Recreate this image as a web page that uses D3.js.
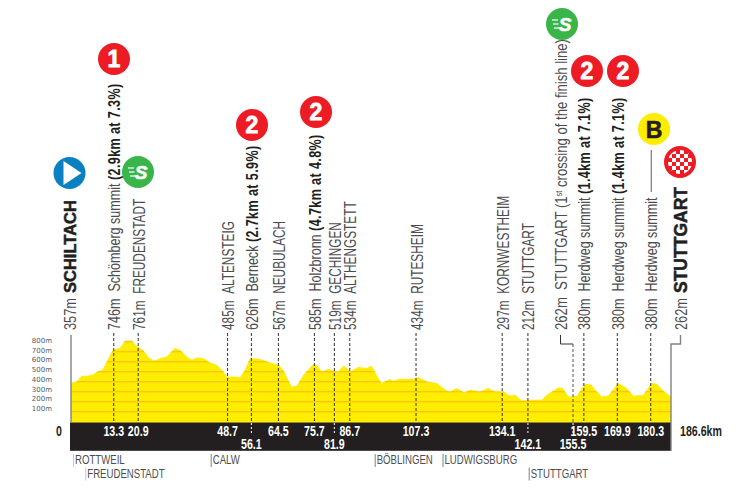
<!DOCTYPE html>
<html>
<head>
<meta charset="utf-8">
<script src="https://cdnjs.cloudflare.com/ajax/libs/d3/7.8.5/d3.min.js"></script>
<style>
  html, body { margin: 0; padding: 0; background: #fff; }
  svg { display: block; }
  text { font-family: "Liberation Sans", sans-serif; }
</style>
</head>
<body>
<div id="chart"></div>
<script>
// Profile
var profileKm = [0, 1.8, 3.3, 4.9, 6.7, 8.2, 9.8, 11.3, 13.0, 15.2, 16.8, 18.9, 20.4, 22.5, 24.1, 25.6, 26.6, 28.2, 29.8, 32.3, 33.9, 36.0, 37.5, 39.1, 41.2, 43.2, 45.3, 47.4, 48.6, 50.5, 52.6, 54.1, 55.7, 58.8, 61.9, 64.5, 66.0, 68.6, 70.2, 72.3, 75.4, 76.4, 78.0, 80.0, 81.6, 83.1, 84.9, 86.8, 89.4, 92.0, 93.5, 95.6, 96.6, 99.2, 100.3, 102.3, 106.5, 108.0, 110.6, 113.7, 116.9, 117.9, 120.0, 122.3, 124.1, 127.2, 129.8, 131.9, 134.5, 136.5, 138.1, 140.2, 143.3, 146.4, 148.0, 151.6, 152.9, 154.7, 157.3, 159.9, 161.9, 163.0, 165.1, 167.1, 170.2, 172.8, 174.9, 178.0, 180.6, 182.2, 184.2, 186.6];
var profileElev = [387, 403, 460, 460, 470, 503, 520, 613, 720, 737, 810, 813, 760, 713, 647, 613, 620, 640, 653, 737, 720, 653, 620, 643, 637, 593, 570, 503, 447, 453, 447, 520, 637, 627, 593, 570, 520, 353, 360, 470, 577, 570, 503, 527, 513, 503, 563, 503, 547, 537, 560, 437, 387, 427, 410, 430, 427, 447, 403, 387, 310, 303, 337, 294, 320, 303, 337, 303, 303, 264, 270, 214, 221, 221, 270, 344, 337, 254, 261, 381, 371, 321, 254, 264, 387, 337, 261, 270, 387, 381, 310, 254];

var elevTicks = [100, 200, 300, 400, 500, 600, 700, 800];
var totalKm = 186.6;

// Points of passage: km, altitude, name, bold climb note
var pointKm = [13.3, 20.9, 48.7, 56.1, 64.5, 75.7, 81.9, 86.7, 107.3, 134.1, 142.1, 159.5, 169.9, 180.3];
var pointAlt = ["746m", "761m", "485m", "626m", "567m", "585m", "519m", "534m", "434m", "297m", "212m", "380m", "380m", "380m"];
var pointName = ["Schömberg summit", "FREUDENSTADT", "ALTENSTEIG", "Berneck", "NEUBULACH", "Holzbronn", "GECHINGEN", "ALTHENGSTETT", "RUTESHEIM", "KORNWESTHEIM", "STUTTGART", "Herdweg summit", "Herdweg summit", "Herdweg summit"];
var pointNote = ["(2.9km at 7.3%)", "", "", "(2.7km at 5.9%)", "", "(4.7km at 4.8%)", "", "", "", "", "", "(1.4km at 7.1%)", "(1.4km at 7.1%)", ""];
var lowerRow = [56.1, 81.9, 142.1, 155.5];

var townNames = ["ROTTWEIL", "FREUDENSTADT", "CALW", "BÖBLINGEN", "LUDWIGSBURG", "STUTTGART"];
var townKm = [0.8, 4.6, 43.6, 94.6, 115.7, 142.5];
var townRow = [0, 1, 0, 0, 0, 1];

var width = 745, height = 489;
var darkText = "#231f20", greyText = "#4d4d4f";

var svg = d3.select("#chart").append("svg")
    .attr("width", width)
    .attr("height", height);

var x = d3.scaleLinear().domain([0, totalKm]).range([71, 671]);
var y = d3.scaleLinear().domain([0, 800]).range([421.8, 341.8]);
var tickLabelY = d3.scaleLinear().domain([100, 800]).range([411, 343]);

// Profile
var profile = d3.range(profileKm.length).map(function(i) {
    return { km: profileKm[i], elev: profileElev[i] };
});
var area = d3.area()
    .x(function(d) { return x(d.km); })
    .y0(y(0) + 1)
    .y1(function(d) { return y(d.elev); });

svg.append("clipPath").attr("id", "profileClip")
    .append("path").attr("d", area(profile));
svg.append("path")
    .attr("d", area(profile))
    .attr("fill", "#ffed00");

// Altitude lines inside the profile
svg.append("g").attr("clip-path", "url(#profileClip)")
    .selectAll("line")
    .data(elevTicks)
    .enter().append("line")
    .attr("x1", x(0))
    .attr("x2", x(totalKm))
    .attr("y1", function(d) { return y(d); })
    .attr("y2", function(d) { return y(d); })
    .attr("stroke", "#f9b80e")
    .attr("stroke-width", 1);

svg.append("g").selectAll("text")
    .data(elevTicks)
    .enter().append("text")
    .attr("x", 52)
    .attr("y", function(d) { return tickLabelY(d); })
    .attr("text-anchor", "end")
    .style("font-family", "'DejaVu Sans'")
    .style("font-size", "7px")
    .attr("fill", "#58595b")
    .text(function(d) { return d + "m"; });

// Distance band
svg.append("rect")
    .attr("x", x(0) - 1)
    .attr("y", 422.5)
    .attr("width", x(totalKm) - x(0) + 1)
    .attr("height", 28.3)
    .attr("fill", darkText);

// Dashed leaders
var leaders = svg.append("g");
pointKm.forEach(function(km) {
    leaders.append("line")
        .attr("x1", x(km)).attr("x2", x(km))
        .attr("y1", 333).attr("y2", 422)
        .attr("stroke", "#333")
        .attr("stroke-width", 1)
        .attr("stroke-dasharray", "3,2");
});
// The first crossing sits a little right of its true km in the reference
var firstCrossing = x(155.5) + 2;
lowerRow.forEach(function(km) {
    var px = km === 155.5 ? firstCrossing : x(km);
    leaders.append("line")
        .attr("x1", px).attr("x2", px)
        .attr("y1", 423).attr("y2", 434)
        .attr("stroke", "#fff")
        .attr("stroke-width", 1)
        .attr("stroke-dasharray", "2,2");
});

// Start and finish brackets, first crossing of the line
leaders.append("path")
    .attr("d", "M" + (firstCrossing - 12.5) + ",335V344H" + firstCrossing)
    .attr("fill", "none").attr("stroke", "#333").attr("stroke-width", 1);
leaders.append("line")
    .attr("x1", firstCrossing).attr("x2", firstCrossing)
    .attr("y1", 344).attr("y2", 422)
    .attr("stroke", "#555").attr("stroke-dasharray", "3,2");
leaders.append("path")
    .attr("d", "M" + (x(totalKm) + 9.5) + ",335V344H" + x(totalKm) + "V451")
    .attr("fill", "none").attr("stroke", "#808285").attr("stroke-width", 1.4);
leaders.append("line")
    .attr("x1", x(0)).attr("x2", x(0))
    .attr("y1", 335).attr("y2", 422)
    .attr("stroke", "#808285").attr("stroke-width", 1.4);
leaders.append("line")
    .attr("x1", x(180.3) + 0.5).attr("x2", x(180.3) + 0.5)
    .attr("y1", 150).attr("y2", 192)
    .attr("stroke", "#58595b").attr("stroke-width", 1);

// Rotated labels, squeezed along the text since no condensed font is available
function rotatedLabel(px, squeeze, parts) {
    var t = svg.append("text")
        .attr("transform", "translate(" + px + ",330) rotate(-90) scale(" + squeeze + ",1)")
        .style("font-size", "16px");
    parts.forEach(function(p) {
        var span = t.append("tspan").text(p.text)
            .attr("fill", p.bold ? darkText : greyText);
        if (p.bold) span.style("font-weight", "700").style("letter-spacing", "0.5px");
        if (p.sup) span.style("font-size", "9px").attr("dy", "-5");
        if (p.down) span.attr("dy", "5");
    });
}
function heavyLabel(px, py, size, name) {
    svg.append("text")
        .attr("transform", "translate(" + px + "," + py + ") rotate(-90)")
        .style("font-size", size + "px")
        .style("font-weight", "700")
        .attr("fill", darkText)
        .attr("stroke", darkText)
        .attr("stroke-width", 0.5)
        .text(name);
}
pointKm.forEach(function(km, i) {
    var isTown = pointName[i] === pointName[i].toUpperCase();
    rotatedLabel(x(km) + 6.5, isTown ? 0.74 : 0.785, [
        { text: pointAlt[i] + "\u00A0\u00A0" + pointName[i] + " " },
        { text: pointNote[i], bold: true }
    ]);
});
rotatedLabel(x(0) + 5, 0.8, [{ text: "357m" }]);
heavyLabel(x(0) + 5, 293, 16.5, "SCHILTACH");
rotatedLabel(x(totalKm) + 15.5, 0.8, [{ text: "262m" }]);
heavyLabel(x(totalKm) + 15.5, 293, 17.5, "STUTTGART");
rotatedLabel(firstCrossing - 6.5, 0.82, [
    { text: "262m\u00A0\u00A0STUTTGART (1" },
    { text: "st", sup: true },
    { text: " crossing of the finish line)", down: true }
]);

// Distances in the band
function bandText(px, py, label, fill, anchor) {
    svg.append("text")
        .attr("transform", "translate(" + px + "," + py + ") scale(0.76,1)")
        .attr("text-anchor", anchor)
        .style("font-size", "14px")
        .style("font-weight", "700")
        .attr("fill", fill)
        .text(label);
}
pointKm.concat([155.5]).forEach(function(km) {
    var low = lowerRow.indexOf(km) >= 0;
    bandText(km === 155.5 ? firstCrossing : x(km), low ? 449 : 435.5, km.toFixed(1), "#fff", "middle");
});
bandText(59, 435.5, "0", darkText, "middle");
bandText(680, 435.5, totalKm + "km", darkText, "start");

// Towns under the band
townNames.forEach(function(name, i) {
    var tx = x(townKm[i]);
    var ty = townRow[i] ? 477.5 : 464;
    svg.append("line")
        .attr("x1", tx).attr("x2", tx)
        .attr("y1", ty - 10).attr("y2", ty + 3)
        .attr("stroke", i < 2 ? "#c7c8ca" : "#808285").attr("stroke-width", 1);
    svg.append("text")
        .attr("transform", "translate(" + (tx + 1.5) + "," + ty + ") scale(0.74,1)")
        .style("font-size", "13px")
        .attr("fill", greyText)
        .text(name);
});

// Badges
function disc(cx, cy, fill) {
    var g = svg.append("g").attr("transform", "translate(" + cx + "," + cy + ")");
    g.append("circle").attr("r", 16).attr("fill", fill);
    return g;
}
function climbBadge(cx, cy, cat) {
    disc(cx, cy, "#ed1c24").append("text")
        .attr("text-anchor", "middle").attr("y", 8)
        .style("font-size", "23px").style("font-weight", "700")
        .attr("stroke", "#fff").attr("stroke-width", 0.8)
        .attr("fill", "#fff").text(cat);
}
function sprintBadge(cx, cy) {
    var g = disc(cx, cy, "#39b54a");
    g.append("text")
        .attr("text-anchor", "middle").attr("x", 3).attr("y", 7)
        .style("font-size", "19px").style("font-weight", "700").style("font-style", "italic")
        .attr("stroke", "#fff").attr("stroke-width", 0.6)
        .attr("fill", "#fff").text("S");
    [-4, 0, 4].forEach(function(dy, i) {
        g.append("line")
            .attr("x1", -10 + i).attr("x2", -4 + i * 0.5)
            .attr("y1", dy).attr("y2", dy)
            .attr("stroke", "#fff").attr("stroke-width", 1.2);
    });
}
var startBadge = disc(69.5, 173, "#0a7fc2");
startBadge.append("path").attr("d", "M-6,-12L12,0L-6,12Z").attr("fill", "#fff");

climbBadge(114, 59, "1");
sprintBadge(138, 172);
climbBadge(252, 125, "2");
climbBadge(316, 112, "2");
sprintBadge(562, 24);
climbBadge(587, 71, "2");
climbBadge(623, 71, "2");

disc(654, 129, "#ffed00").append("text")
    .attr("text-anchor", "middle").attr("y", 8.5)
    .style("font-size", "23px").style("font-weight", "700")
    .attr("stroke", darkText).attr("stroke-width", 0.6)
    .attr("fill", darkText).text("B");

// Finish badge with chequered centre
var finish = disc(680, 162, "#ed1c24");
finish.append("circle").attr("r", 12).attr("fill", "#fff");
var squares = d3.range(-3, 3);
squares.forEach(function(r) {
    squares.forEach(function(c) {
        if ((r + c + 6) % 2 === 0 && (r + 0.5) * (r + 0.5) + (c + 0.5) * (c + 0.5) < 9) {
            finish.append("rect")
                .attr("x", c * 4).attr("y", r * 4)
                .attr("width", 4).attr("height", 4)
                .attr("fill", "#ed1c24");
        }
    });
});
</script>
</body>
</html>
